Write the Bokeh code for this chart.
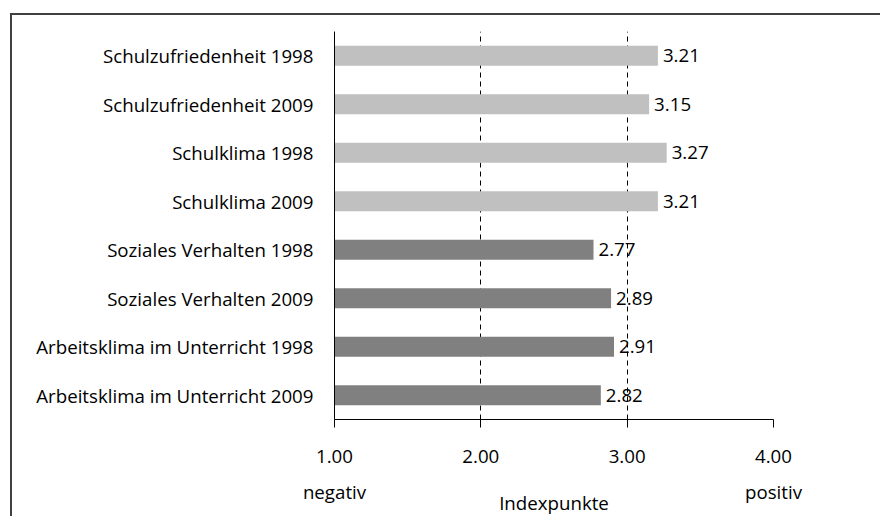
from bokeh.plotting import figure
from bokeh.models import (ColumnDataSource, FactorRange, Range1d, FixedTicker,
                          NumeralTickFormatter, LinearAxis)
from bokeh.core.properties import value
from bokeh.embed import file_html
from bokeh.resources import INLINE

categories = [
    "Schulzufriedenheit 1998",
    "Schulzufriedenheit 2009",
    "Schulklima 1998",
    "Schulklima 2009",
    "Soziales Verhalten 1998",
    "Soziales Verhalten 2009",
    "Arbeitsklima im Unterricht 1998",
    "Arbeitsklima im Unterricht 2009",
]
values = [3.21, 3.15, 3.27, 3.21, 2.77, 2.89, 2.91, 2.82]
groups = ["light", "light", "light", "light", "dark", "dark", "dark", "dark"]
x_ticks = [1, 2, 3, 4]
end_ticks = [1, 4]
end_labels = ["negativ", "positiv"]
x_title = "Indexpunkte"

palette = {"light": "#c0c0c0", "dark": "#808080"}
FONT = "Open Sans"
FS = "18.7px"

source = ColumnDataSource(dict(
    cat=categories,
    val=values,
    color=[palette[g] for g in groups],
    txt=["%.2f" % v for v in values],
))

W, H = 870, 503
p = figure(
    width=W, height=H,
    y_range=FactorRange(factors=list(reversed(categories)), range_padding=0),
    x_range=Range1d(1, 4),
    output_backend="svg", toolbar_location=None,
    min_border_left=322, min_border_right=109,
    min_border_top=16, min_border_bottom=99,
)
p.margin = (13, 0, 0, 10)
p.styles = {"border-top": "2px solid #404040", "border-left": "2px solid #404040"}
p.outline_line_color = None

p.hbar(y="cat", left=1, right="val", height=0.41, fill_color="color",
       line_color=None, source=source)
p.text(x="val", y="cat", text="txt", source=source, x_offset=5,
       text_baseline="middle", text_align="left",
       text_font=value(FONT), text_font_size=FS, text_color="#000000")

# x axis (numbers)
xa = p.xaxis[0]
xa.ticker = FixedTicker(ticks=x_ticks)
xa.formatter = NumeralTickFormatter(format="0.00")
xa.major_tick_in = 0
xa.major_tick_out = 8
xa.minor_tick_line_color = None
xa.axis_line_color = "#000000"
xa.major_tick_line_color = "#000000"
xa.major_label_text_font = FONT
xa.major_label_text_font_size = FS
xa.major_label_text_color = "#000000"
xa.major_label_standoff = 22

# second axis: negativ / positiv + title
xb = LinearAxis(
    ticker=FixedTicker(ticks=end_ticks),
    major_label_overrides={t: s for t, s in zip(end_ticks, end_labels)},
    axis_line_color=None, major_tick_line_color=None, minor_tick_line_color=None,
    major_tick_in=0, major_tick_out=0,
    major_label_standoff=13,
    major_label_text_font=FONT, major_label_text_font_size=FS,
    major_label_text_color="#000000",
    axis_label=x_title, axis_label_standoff=-17,
    axis_label_text_font=FONT, axis_label_text_font_size=FS,
    axis_label_text_font_style="normal", axis_label_text_color="#000000",
)
p.add_layout(xb, "below")

# y axis
p.yaxis.major_tick_line_color = None
p.yaxis.minor_tick_line_color = None
p.yaxis.major_tick_in = 0
p.yaxis.major_tick_out = 0
p.yaxis.axis_line_color = "#000000"
p.yaxis.major_label_text_font = FONT
p.yaxis.major_label_text_font_size = FS
p.yaxis.major_label_text_color = "#000000"
p.yaxis.major_label_standoff = 21

# grid
p.ygrid.grid_line_color = None
p.xgrid.ticker = FixedTicker(ticks=x_ticks)
p.xgrid.grid_line_color = "#000000"
p.xgrid.grid_line_dash = "5 4"
p.xgrid.grid_line_width = 1

open("out.html", "w").write(file_html(p, INLINE))
